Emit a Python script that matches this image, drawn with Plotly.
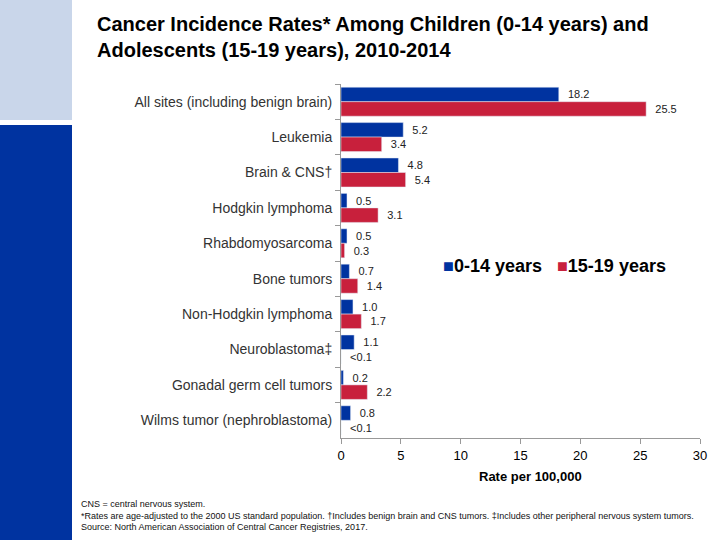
import plotly.graph_objects as go

categories = ["All sites (including benign brain)", "Leukemia", "Brain & CNS\u2020",
              "Hodgkin lymphoma", "Rhabdomyosarcoma", "Bone tumors",
              "Non-Hodgkin lymphoma", "Neuroblastoma\u2021", "Gonadal germ cell tumors",
              "Wilms tumor (nephroblastoma)"]
children = [18.2, 5.2, 4.8, 0.5, 0.5, 0.7, 1.0, 1.1, 0.2, 0.8]
children_text = ["18.2", "5.2", "4.8", "0.5", "0.5", "0.7", "1.0", "1.1", "0.2", "0.8"]
adolescents = [25.5, 3.4, 5.4, 3.1, 0.3, 1.4, 1.7, 0.0, 2.2, 0.0]
adolescents_text = ["25.5", "3.4", "5.4", "3.1", "0.3", "1.4", "1.7", "<0.1", "2.2", "<0.1"]
x_ticks = [0, 5, 10, 15, 20, 25, 30]
series_names = ["0-14 years", "15-19 years"]

W, H = 720, 540
L, R, T, B = 341, 20, 84, 102
PW, PH = W - L - R, H - T - B

def px(x):
    return (x - L) / PW

def py(y):
    return 1 - (y - T) / PH

BLUE = "#0033a0"
RED = "#c8203c"
FONT = "Liberation Sans, Arial, sans-serif"

fig = go.Figure()
fig.add_trace(go.Bar(y=categories, x=children, name=series_names[0], orientation="h",
                     marker_color=BLUE, text=children_text, texttemplate="  %{text}",
                     textposition="outside",
                     textfont=dict(size=11, color="#222222"), cliponaxis=False))
fig.add_trace(go.Bar(y=categories, x=adolescents, name=series_names[1], orientation="h",
                     marker_color=RED, text=adolescents_text, texttemplate="  %{text}",
                     textposition="outside",
                     textfont=dict(size=11, color="#222222"), cliponaxis=False))

shapes = [
    dict(type="rect", xref="paper", yref="paper", x0=px(0), x1=px(72), y0=py(0), y1=py(120),
         fillcolor="#c9d6ea", line_width=0, layer="below"),
    dict(type="rect", xref="paper", yref="paper", x0=px(0), x1=px(72), y0=py(125), y1=py(540),
         fillcolor="#0033a0", line_width=0, layer="below"),
]

legend_text = ("<span style='color:%s'>\u25a0</span><b>%s</b>   "
               "<span style='color:%s'>\u25a0</span><b>%s</b>") % (BLUE, series_names[0], RED, series_names[1])

annotations = [
    dict(text="<b>Cancer Incidence Rates* Among Children (0-14 years) and<br>Adolescents (15-19 years), 2010-2014</b>",
         xref="paper", yref="paper", x=px(95), y=py(11), xanchor="left", yanchor="top",
         align="left", showarrow=False, font=dict(size=20, color="#000000")),
    dict(text="<b>Rate per 100,000</b>", xref="paper", yref="paper", x=px(530), y=py(476),
         xanchor="center", yanchor="middle", showarrow=False, font=dict(size=13, color="#000000")),
    dict(text=legend_text, xref="paper", yref="paper", x=px(441), y=py(266),
         xanchor="left", yanchor="middle", showarrow=False, font=dict(size=18, color="#000000")),
    dict(text="CNS = central nervous system.<br>*Rates are age-adjusted to the 2000 US standard population. \u2020Includes benign brain and CNS tumors. \u2021Includes other peripheral nervous system tumors.<br>Source: North American Association of Central Cancer Registries, 2017.",
         xref="paper", yref="paper", x=px(79), y=py(497), xanchor="left", yanchor="top",
         align="left", showarrow=False, font=dict(size=9, color="#111111")),
]

fig.update_layout(
    width=W, height=H,
    margin=dict(l=L, r=R, t=T, b=B, pad=0),
    paper_bgcolor="white", plot_bgcolor="white",
    font=dict(family=FONT, color="#333333"),
    barmode="group", bargap=0.18, bargroupgap=0,
    shapes=shapes, annotations=annotations,
    showlegend=False,
)
fig.update_xaxes(range=[0, 30], tickvals=x_ticks, showgrid=False, zeroline=False,
                 showline=True, linecolor="#999999", ticks="outside", ticklen=5,
                 tickcolor="#999999", tickfont=dict(size=13, color="#000000"))
fig.update_yaxes(autorange="reversed", showgrid=False, showline=True, linecolor="#999999",
                 ticks="outside", tickson="boundaries", ticklen=5, tickcolor="#999999",
                 ticklabelstandoff=5,
                 tickfont=dict(size=14, color="#333333"))

fig.write_html("out.html", config={"displayModeBar": False},
               post_script="document.body.style.margin='0';")
